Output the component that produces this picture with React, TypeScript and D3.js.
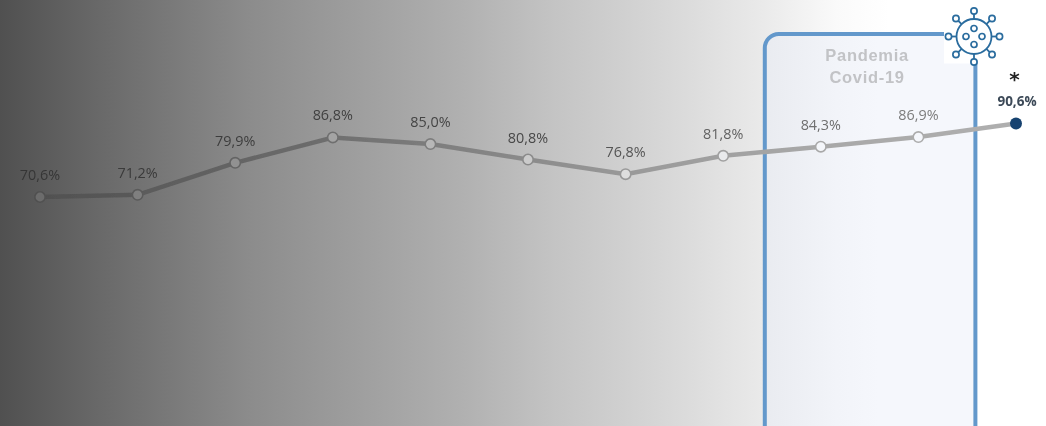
import { useEffect, useRef } from "react";
import * as d3 from "d3";

const years = ["2010", "2011", "2012", "2013", "2014", "2015", "2016", "2017", "2018", "2019", "2020"];
const values = [70.6, 71.2, 79.9, 86.8, 85.0, 80.8, 76.8, 81.8, 84.3, 86.9, 90.6];
const labels = ["70,6%", "71,2%", "79,9%", "86,8%", "85,0%", "80,8%", "76,8%", "81,8%", "84,3%", "86,9%", "90,6%"];
const panelYears = ["2018", "2019"];
const panelTitle = ["Pandemia", "Covid-19"];

const width = 1046;
const height = 426;

export default function App() {
  const svgRef = useRef<SVGSVGElement>(null);

  useEffect(() => {
    const svg = d3.select(svgRef.current);
    svg.selectAll("*").remove();

    const x = d3.scalePoint<string>().domain(years).range([40, 1016]);
    const y = d3.scaleLinear().domain([70.6, 90.6]).range([197, 123.5]);

    const defs = svg.append("defs");
    const gradient = (id: string, stops: [number, string][]) => {
      const g = defs
        .append("linearGradient")
        .attr("id", id)
        .attr("gradientUnits", "userSpaceOnUse")
        .attr("x1", 0)
        .attr("x2", width)
        .attr("y1", 0)
        .attr("y2", 0);
      stops.forEach(([o, c]) => g.append("stop").attr("offset", o).attr("stop-color", c));
    };
    gradient("bg", [
      [0, "#505050"],
      [0.1, "#6a6a6a"],
      [0.24, "#8c8c8c"],
      [0.44, "#b0b0b0"],
      [0.53, "#c4c4c4"],
      [0.64, "#d8d8d8"],
      [0.73, "#eaeaea"],
      [0.8, "#fafafa"],
      [0.85, "#ffffff"],
      [1, "#ffffff"],
    ]);
    gradient("lineGrad", [
      [0, "#4c4c4c"],
      [0.3, "#6c6c6c"],
      [0.6, "#999999"],
      [0.78, "#a8a8a8"],
      [1, "#b0b0b0"],
    ]);
    gradient("panelFill", [
      [0.73, "#e9ebf0"],
      [0.8, "#f2f4f9"],
      [0.84, "#f5f7fc"],
      [1, "#f5f7fc"],
    ]);

    // slight softness, the reference is a scaled bitmap
    defs
      .append("filter")
      .attr("id", "soft")
      .attr("filterUnits", "userSpaceOnUse")
      .attr("x", 0)
      .attr("y", 0)
      .attr("width", width)
      .attr("height", height)
      .append("feGaussianBlur")
      .attr("stdDeviation", 0.4);

    svg.append("rect").attr("width", width).attr("height", height).attr("fill", "url(#bg)");

    // panel behind the pandemia years
    const px0 = x(panelYears[0])! - 56;
    const px1 = x(panelYears[1])! + 57;
    const panelTop = 34;
    const r = 14;
    const panelPath = `M${px0},${height + 5}V${panelTop + r}A${r},${r} 0 0 1 ${px0 + r},${panelTop}H${px1 - r}A${r},${r} 0 0 1 ${px1},${panelTop + r}V${height + 5}`;
    svg.append("path").attr("d", panelPath).attr("fill", "url(#panelFill)");
    svg
      .append("path")
      .attr("d", panelPath)
      .attr("fill", "none")
      .attr("stroke", "#6398cb")
      .attr("stroke-width", 4);

    svg
      .append("g")
      .attr("filter", "url(#soft)")
      .selectAll("text")
      .data(panelTitle)
      .join("text")
      .attr("x", (px0 + px1) / 2 - 3)
      .attr("y", (_, i) => 61 + i * 22)
      .attr("text-anchor", "middle")
      .attr("font-family", "Liberation Sans, Arial, sans-serif")
      .attr("font-weight", 700)
      .attr("font-size", 16.5)
      .attr("letter-spacing", 0.7)
      .attr("fill", "#c2c3c6")
      .text((d) => d);

    // virus icon
    svg.append("rect").attr("x", 944).attr("y", 4.5).attr("width", 63).attr("height", 59).attr("fill", "#fff");
    const iconColor = "#2a6c9e";
    const iconMarks = svg
      .append("g")
      .attr("filter", "url(#soft)")
      .append("g")
      .attr("transform", "translate(974,36.5)");
    iconMarks
      .append("circle")
      .attr("r", 17.5)
      .attr("fill", "none")
      .attr("stroke", iconColor)
      .attr("stroke-width", 1.8);
    d3.range(8).forEach((i) => {
      const a = (i * Math.PI) / 4;
      const rr = 22.5;
      iconMarks
        .append("line")
        .attr("x1", 17.5 * Math.cos(a))
        .attr("y1", 17.5 * Math.sin(a))
        .attr("x2", rr * Math.cos(a))
        .attr("y2", rr * Math.sin(a))
        .attr("stroke", iconColor)
        .attr("stroke-width", 1.8);
      iconMarks
        .append("circle")
        .attr("cx", (rr + 3) * Math.cos(a))
        .attr("cy", (rr + 3) * Math.sin(a))
        .attr("r", 3.1)
        .attr("fill", "#fff")
        .attr("stroke", iconColor)
        .attr("stroke-width", 1.7);
    });
    d3.range(4).forEach((i) => {
      const a = (i * Math.PI) / 2;
      iconMarks
        .append("circle")
        .attr("cx", 8 * Math.cos(a))
        .attr("cy", 8 * Math.sin(a))
        .attr("r", 3)
        .attr("fill", "none")
        .attr("stroke", iconColor)
        .attr("stroke-width", 1.7);
    });

    const line = d3
      .line<number>()
      .x((_, i) => x(years[i])!)
      .y((d) => y(d));

    const marks = svg.append("g").attr("filter", "url(#soft)");

    marks
      .append("path")
      .attr("d", line(values))
      .attr("fill", "none")
      .attr("stroke", "url(#lineGrad)")
      .attr("stroke-width", 4.5);

    const last = values.length - 1;
    const ptFill = d3
      .scaleLinear<string>()
      .domain([40, 333, 626, 821, 919])
      .range(["#6c6c6c", "#a4a4a4", "#dedede", "#f4f6fa", "#f5f7fc"]);

    marks
      .append("g")
      .selectAll("circle")
      .data(values)
      .join("circle")
      .attr("cx", (_, i) => x(years[i])!)
      .attr("cy", (d) => y(d))
      .attr("r", (_, i) => (i === last ? 6 : 5.2))
      .attr("fill", (_, i) => (i === last ? "#17426f" : ptFill(x(years[i])!)))
      .attr("stroke", (_, i) => (i === last ? "#17426f" : "url(#lineGrad)"))
      .attr("stroke-width", (_, i) => (i === last ? 0 : 1.6));

    const textColor = d3.scaleLinear<string>().domain([40, 528, 919]).range(["#363636", "#484848", "#7c7c7c"]);

    marks
      .append("g")
      .selectAll("text")
      .data(labels)
      .join("text")
      .attr("x", (_, i) => x(years[i])! + (i === last ? 1 : 0))
      .attr("y", (_, i) => y(values[i]) - (i === last ? 18 : 17))
      .attr("text-anchor", "middle")
      .attr("font-family", "Open Sans, sans-serif")
      .attr("font-size", (_, i) => (i === last ? 13.5 : 14.4))
      .attr("font-weight", (_, i) => (i === last ? 700 : 400))
      .attr("fill", (_, i) => (i === last ? "#3c4a58" : textColor(x(years[i])!)))
      .text((d) => d);

    marks
      .append("text")
      .attr("x", 1014.5)
      .attr("y", 86)
      .attr("text-anchor", "middle")
      .attr("font-family", "DejaVu Sans, sans-serif")
      .attr("font-size", 20)
      .attr("font-weight", 700)
      .attr("fill", "#222")
      .text("*");
  }, []);

  return (
    <svg
      ref={svgRef}
      width={width}
      height={height}
      style={{ position: "absolute", left: 0, top: 0, display: "block" }}
    ></svg>
  );
}
